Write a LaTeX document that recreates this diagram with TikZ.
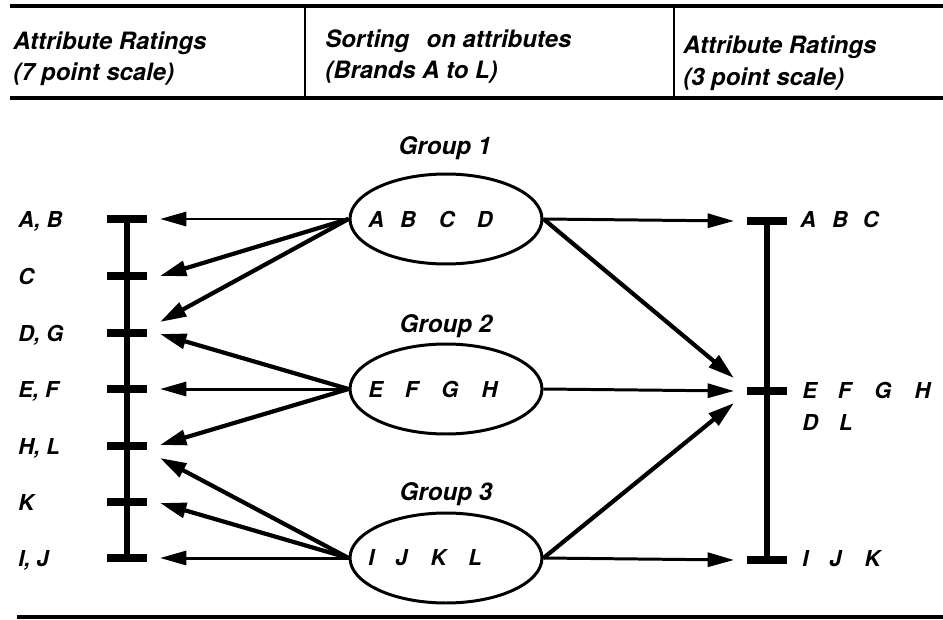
\documentclass[tikz,border=0pt]{standalone}
\usepackage{fontspec}
\setmainfont{TeX Gyre Heros}
\usetikzlibrary{arrows.meta,shapes.geometric}
\begin{document}
\begin{tikzpicture}[x=0.02cm,y=-0.02cm,
  lab/.style={font=\fontsize{12.5}{15}\selectfont\bfseries\itshape, inner sep=0pt, anchor=base west},
  hdr/.style={font=\fontsize{13.6}{16}\selectfont\bfseries\itshape, inner sep=0pt, anchor=base west},
  grp/.style={font=\fontsize{13.8}{16}\selectfont\bfseries\itshape, inner sep=0pt, anchor=base},
  grpell/.style={draw, ellipse, line width=1.7pt, minimum width=3.84cm, minimum height=1.8cm, inner sep=0pt},
  arr/.style={-{Triangle[length=15pt,width=8pt]}, line width=1.7pt},
  darr/.style={-{Triangle[length=15pt,width=8.5pt]}, line width=2.4pt},
  scalebar/.style={line width=3.6pt},
  tickline/.style={line width=4pt},
  rule/.style={line width=2.4pt},
  divider/.style={line width=1.2pt}
]
\useasboundingbox (0,0) rectangle (943,619);

% header
\coordinate (htl) at (10,6);
\coordinate (htr) at (943,6);
\coordinate (hbl) at (10,98);
\coordinate (hbr) at (943,98);
\coordinate (d1t) at (305,6);
\coordinate (d1b) at (305,98);
\coordinate (d2t) at (674,6);
\coordinate (d2b) at (674,98);
\coordinate (fl) at (17,617);
\coordinate (fr) at (943,617);
\draw[rule] (htl) -- (htr);
\draw[rule] (hbl) -- (hbr);
\draw[divider] (d1t) -- (d1b);
\draw[divider] (d2t) -- (d2b);
\draw[rule] (fl) -- (fr);

\node[hdr] (h1a) at (13,49) {Attribute Ratings};
\node[hdr] (h1b) at (13,80) {(7 point scale)};
\node[hdr] (h2a) at (325,47) {Sorting\hspace{0.45em} on attributes};
\node[hdr] (h2b) at (325,78) {(Brands A to L)};
\node[hdr] (h3a) at (683,53) {Attribute Ratings};
\node[hdr] (h3b) at (683,85) {(3 point scale)};

% left 7-point scale
\coordinate (lt1) at (127,219);
\coordinate (lt2) at (127,276);
\coordinate (lt3) at (127,333);
\coordinate (lt4) at (127,389);
\coordinate (lt5) at (127,446);
\coordinate (lt6) at (127,502);
\coordinate (lt7) at (127,558);
\draw[scalebar] (lt1) -- (lt7);
\foreach \t in {lt1,lt2,lt3,lt4,lt5,lt6,lt7}
  \draw[tickline] (\t) ++(-20,0) -- ++(40,0);

\node[lab] (l1) at (18,227) {A, B};
\node[lab] (l2) at (18,284) {C};
\node[lab] (l3) at (18,341) {D, G};
\node[lab] (l4) at (18,397) {E, F};
\node[lab] (l5) at (18,454) {H, L};
\node[lab] (l6) at (18,510) {K};
\node[lab] (l7) at (18,566) {I, J};

% right 3-point scale
\coordinate (rt1) at (767,221);
\coordinate (rt2) at (767,391);
\coordinate (rt3) at (767,560);
\draw[scalebar] (rt1) -- (rt3);
\foreach \t in {rt1,rt2,rt3}
  \draw[tickline] (\t) ++(-20,0) -- ++(40,0);

\node[lab] (r1) at (800,227) {A\hspace{0.72em}B\hspace{0.68em}C};
\node[lab] (r2) at (802,398) {E\hspace{0.95em}F\hspace{1.05em}G\hspace{1.05em}H};
\node[lab] (r3) at (802,430) {D\hspace{0.95em}L};
\node[lab] (r4) at (802,566) {I\hspace{0.95em}J\hspace{1.05em}K};

% groups
\node[grpell] (g1) at (446,219) {};
\node[grpell] (g2) at (446,389) {};
\node[grpell] (g3) at (446,558) {};
\node[grp] (g1l) at (445,154) {Group 1};
\node[grp] (g2l) at (446,332) {Group 2};
\node[grp] (g3l) at (446,500) {Group 3};
\node[lab] (g1t) at (368,227) {A\hspace{0.72em}B\hspace{1.05em}C\hspace{1.0em}D};
\node[lab] (g2t) at (368,397) {E\hspace{1.0em}F\hspace{1.05em}G\hspace{1.05em}H};
\node[lab] (g3t) at (368,565) {I\hspace{0.95em}J\hspace{1.05em}K\hspace{1.0em}L};

% arrow end points (left)
\coordinate (la1) at (160,219);
\coordinate (la2) at (160,276);
\coordinate (la3) at (160,322);
\coordinate (la4) at (160,334);
\coordinate (la5) at (160,389);
\coordinate (la6) at (160,445);
\coordinate (la7) at (160,458);
\coordinate (la8) at (160,503);
\coordinate (la9) at (160,558);
% arrow end points (right)
\coordinate (ra1) at (734,221);
\coordinate (ra2) at (734,378);
\coordinate (ra3) at (734,391);
\coordinate (ra4) at (734,403);
\coordinate (ra5) at (734,560);

\draw[arr] (g1.west) -- (la1);
\draw[darr] (g1.west) -- (la2);
\draw[darr] (g1.west) -- (la3);
\draw[darr] (g2.west) -- (la4);
\draw[arr] (g2.west) -- (la5);
\draw[darr] (g2.west) -- (la6);
\draw[darr] (g3.west) -- (la7);
\draw[darr] (g3.west) -- (la8);
\draw[arr] (g3.west) -- (la9);

\draw[arr] (g1.east) -- (ra1);
\draw[darr] (g1.east) -- (ra2);
\draw[arr] (g2.east) -- (ra3);
\draw[darr] (g3.east) -- (ra4);
\draw[arr] (g3.east) -- (ra5);
\end{tikzpicture}
\end{document}
